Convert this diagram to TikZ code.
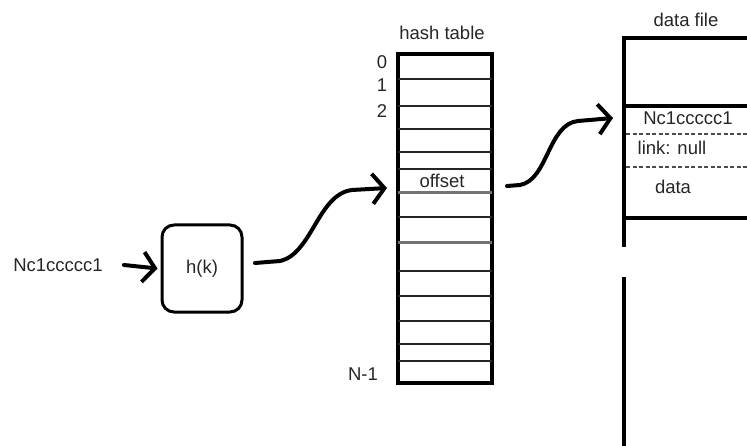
\documentclass[tikz,border=0pt]{standalone}
\usepackage{fontspec}
\setmainfont{Liberation Sans}
\usetikzlibrary{arrows.meta}
\begin{document}
\begin{tikzpicture}[x=1bp,y=-1bp,
  lbl/.style={font=\fontsize{18.5bp}{20bp}\selectfont, text=black!85, inner sep=0pt},
  frame/.style={line width=3.5bp, draw=black},
  rowline/.style={line width=2.5bp, draw=black!85},
  greyline/.style={line width=3bp, draw=black!55},
  dashline/.style={line width=1.8bp, draw=black!70, dash pattern=on 4bp off 2.5bp},
  barb/.style={-{Straight Barb[length=12bp,width=30bp]}, line width=4bp, line cap=round, line join=round}]
\useasboundingbox (0,0) rectangle (747,446);

% input and hash function
\node[lbl] (src) at (58,265) {Nc1ccccc1};
\node[draw, line width=3bp, rounded corners=12bp, minimum width=80bp, minimum height=87bp, inner sep=0pt, font=\fontsize{18.5bp}{20bp}\selectfont, text=black!85] (hk) at (202,268.5) {h(k)\hspace{9bp}};
\draw[barb] ([xshift=21bp]src.east) -- ([xshift=-3bp]hk.west);

% hash table
\node[lbl] (httitle) at (442,33) {hash table};
\node[frame, minimum width=94bp, minimum height=329bp, inner sep=0pt] (ht) at (445,218.5) {};
\foreach \y in {79,106,129,152,169,217,271,296,321,344,361}
  \draw[rowline] ([xshift=1.5bp]ht.west |- 0,\y) -- ([xshift=-1.5bp]ht.east |- 0,\y);
\foreach \y in {193,243}
  \draw[greyline] ([xshift=1.5bp]ht.west |- 0,\y) -- ([xshift=-1.5bp]ht.east |- 0,\y);
\node[lbl] (off) at (442,181) {offset};
\node[lbl] (i0) at (382,62) {0};
\node[lbl] (i1) at (382,85) {1};
\node[lbl] (i2) at (382,111) {2};
\node[lbl] (iN) at (363,374) {N-1};

% data file
\node[lbl] (dftitle) at (686,20) {data file};
\coordinate (dfa) at (624,247);
\coordinate (dftl) at (624,38);
\coordinate (dftr) at (747,38);
\coordinate (dfb) at (624,277);
\coordinate (dfbe) at (624,446);
\draw[frame] (dfa) -- (dftl) -- (dftr);
\draw[frame] (dfb) -- (dfbe);
\draw[frame] (624,106) -- (747,106);
\draw[frame] (624,218) -- (747,218);
\draw[dashline] (626,134) -- (747,134);
\draw[dashline] (626,167) -- (747,167);
\node[lbl] (rec) at (688,118) {Nc1ccccc1};
\node[lbl] (lnk) at (672,148) {link: null};
\node[lbl] (dat) at (673,187) {data};

% curved arrows
\coordinate (a1s) at (255,263);
\coordinate (a1e) at (387,188);
\draw[barb] (a1s) -- (280,261) .. controls (312,254) and (318,194) .. (352,190) -- (a1e);
\coordinate (a2s) at (507,186);
\coordinate (a2e) at (613,118);
\draw[barb] (a2s) -- (520,185) .. controls (548,180) and (548,124) .. (578,121) -- (a2e);
\end{tikzpicture}
\end{document}
